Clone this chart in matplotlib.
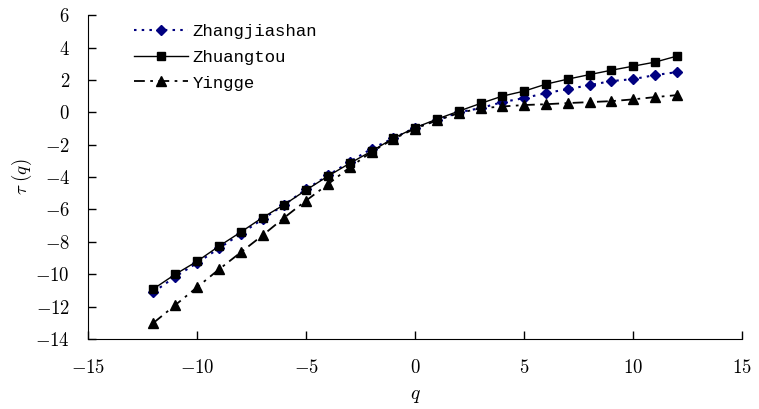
import numpy as np
import matplotlib
matplotlib.use("Agg")
import matplotlib.pyplot as plt

# q values and tau(q)
q = np.arange(-12, 13)
zhangjiashan = [-11.1, -10.15, -9.3, -8.4, -7.5, -6.6, -5.7, -4.75, -3.9, -3.05, -2.25, -1.6, -0.95,
                -0.5, 0.0, 0.26, 0.63, 0.88, 1.19, 1.43, 1.68, 1.93, 2.05, 2.3, 2.48]
zhuangtou = [-10.9, -10.0, -9.2, -8.27, -7.4, -6.5, -5.7, -4.8, -3.94, -3.15, -2.4, -1.6, -0.95,
             -0.42, 0.07, 0.55, 1.0, 1.31, 1.74, 2.05, 2.33, 2.6, 2.85, 3.1, 3.47]
yingge = [-13.0, -11.9, -10.8, -9.7, -8.65, -7.6, -6.5, -5.45, -4.44, -3.4, -2.45, -1.65, -1.0,
          -0.5, -0.05, 0.25, 0.36, 0.45, 0.5, 0.57, 0.63, 0.69, 0.8, 0.94, 1.06]
xticks = list(range(-15, 16, 5))
yticks = list(range(-14, 7, 2))

plt.rcParams['font.family'] = 'Liberation Serif'
plt.rcParams['mathtext.fontset'] = 'cm'

fig = plt.figure(figsize=(7.59, 4.09), dpi=100)
ax = fig.add_axes([0.116, 0.171, 0.862, 0.792])

ax.plot(q, zhangjiashan, color='#000080', linestyle=(0, (1.2, 2.5)), linewidth=1.5,
        marker='D', markersize=5, label='Zhangjiashan')
ax.plot(q, zhuangtou, color='black', linestyle='-', linewidth=1,
        marker='s', markersize=6, label='Zhuangtou')
ax.plot(q, yingge, color='black', linestyle=(0, (6, 3, 1.5, 3)), linewidth=1.3,
        marker='^', markersize=7, label='Yingge')

ax.set_xlim(-15, 15)
ax.set_ylim(-14, 6)
ax.set_xticks(xticks)
ax.set_xticklabels(['$%d$' % t for t in xticks])
ax.set_yticks(yticks)
ax.set_yticklabels(['$%d$' % t for t in yticks])
ax.tick_params(direction='in', length=6, labelsize=13.5, width=1)
ax.tick_params(axis='x', pad=14)
ax.tick_params(axis='y', pad=13)
ax.spines['top'].set_visible(False)
ax.spines['right'].set_visible(False)

ax.set_xlabel('$q$', fontsize=14, labelpad=8)
ax.set_ylabel(r'$\tau\ (q)$', fontsize=13.5, labelpad=1)

ax.legend(loc='upper left', bbox_to_anchor=(0.047, 1.02), frameon=False,
          prop={'family': 'Liberation Mono', 'size': 12.5}, handlelength=3.1,
          handletextpad=0.25, labelspacing=0.6)

fig.savefig('out.png', dpi=100)
